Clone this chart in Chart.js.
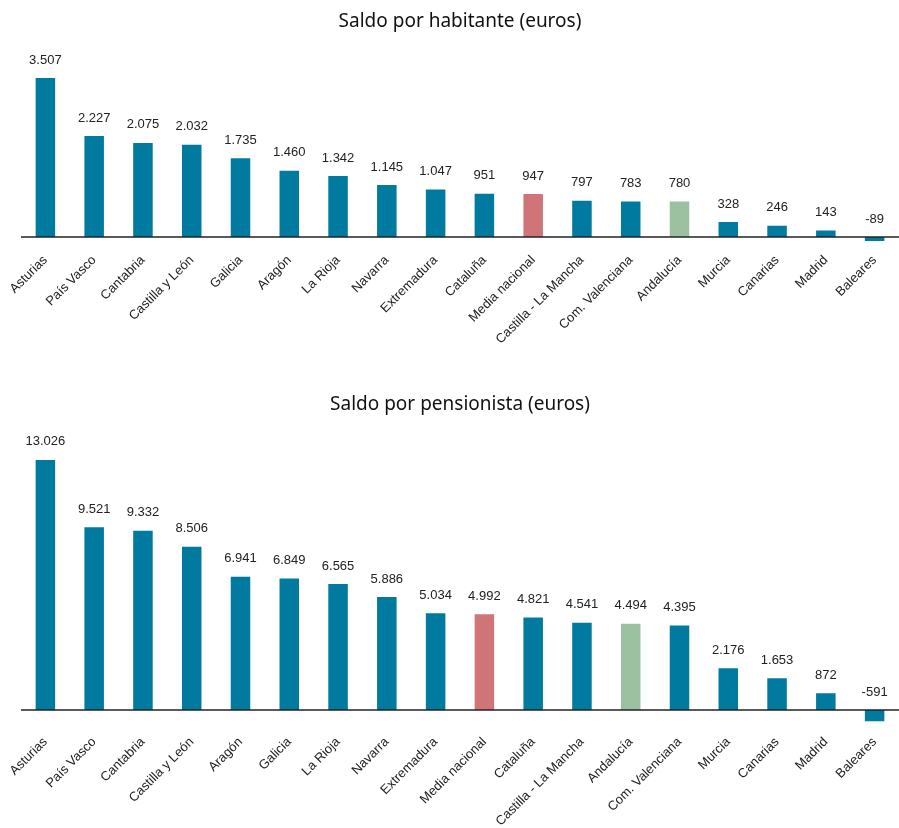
<!DOCTYPE html>
<html lang="es">
<head>
  <meta charset="UTF-8">
  <title>Saldo por habitante y por pensionista</title>
  <script src="https://cdn.jsdelivr.net/npm/chart.js"></script>
  <style>
    body { margin: 0; background: #fff; }
    #wrap { position: relative; width: 899px; height: 828px; }
    .box { position: absolute; left: 0; width: 899px; }
    #box1 { top: 0; height: 370px; }
    #box2 { top: 380px; height: 448px; }
  </style>
</head>
<body>
  <div id="wrap">
    <div class="box" id="box1"><canvas id="grafico1"></canvas></div>
    <div class="box" id="box2"><canvas id="grafico2"></canvas></div>
  </div>

  <script>
    // Datos: saldo por habitante
    const regionesHab = ['Asturias', 'País Vasco', 'Cantabria', 'Castilla y León', 'Galicia', 'Aragón',
      'La Rioja', 'Navarra', 'Extremadura', 'Cataluña', 'Media nacional', 'Castilla - La Mancha',
      'Com. Valenciana', 'Andalucía', 'Murcia', 'Canarias', 'Madrid', 'Baleares'];
    const saldoHab = [3507, 2227, 2075, 2032, 1735, 1460, 1342, 1145, 1047, 951, 947, 797, 783, 780, 328, 246, 143, -89];

    // Datos: saldo por pensionista
    const regionesPen = ['Asturias', 'País Vasco', 'Cantabria', 'Castilla y León', 'Aragón', 'Galicia',
      'La Rioja', 'Navarra', 'Extremadura', 'Media nacional', 'Cataluña', 'Castilla - La Mancha',
      'Andalucía', 'Com. Valenciana', 'Murcia', 'Canarias', 'Madrid', 'Baleares'];
    const saldoPen = [13026, 9521, 9332, 8506, 6941, 6849, 6565, 5886, 5034, 4992, 4821, 4541, 4494, 4395, 2176, 1653, 872, -591];

    const AZUL = '#007a9e';
    const ROJO = '#d07577';
    const VERDE = '#9cc1a0';

    function colores(labels) {
      return labels.map(l => l === 'Media nacional' ? ROJO : (l === 'Andalucía' ? VERDE : AZUL));
    }

    function formato(v) {
      return v.toLocaleString('de-DE');
    }

    // etiquetas de valor + linea del cero
    const extras = {
      id: 'extras',
      afterDatasetsDraw(chart) {
        const ctx = chart.ctx;
        const y = chart.scales.y;
        const area = chart.chartArea;
        const y0 = y.getPixelForValue(0);
        ctx.save();
        ctx.strokeStyle = '#222';
        ctx.lineWidth = 1.5;
        ctx.beginPath();
        ctx.moveTo(area.left, y0);
        ctx.lineTo(area.right, y0);
        ctx.stroke();

        ctx.fillStyle = '#222';
        ctx.font = '13px "Liberation Sans", Arial, sans-serif';
        ctx.textAlign = 'center';
        ctx.textBaseline = 'middle';
        const meta = chart.getDatasetMeta(0);
        chart.data.datasets[0].data.forEach((v, i) => {
          const bar = meta.data[i];
          const top = Math.min(y.getPixelForValue(v), y0);
          ctx.fillText(formato(v), bar.x, top - 18);
        });
        ctx.restore();
      }
    };

    function crear(id, labels, datos, titulo, opts) {
      const ctx = document.getElementById(id).getContext('2d');
      return new Chart(ctx, {
        type: 'bar',
        data: {
          labels: labels,
          datasets: [{
            data: datos,
            backgroundColor: colores(labels),
            barPercentage: 0.4,
            categoryPercentage: 1.0
          }]
        },
        options: {
          responsive: true,
          maintainAspectRatio: false,
          animation: false,
          layout: { padding: { left: 21, right: 0, top: 0, bottom: 0 } },
          plugins: {
            legend: { display: false },
            tooltip: { enabled: false },
            title: {
              display: true,
              text: titulo,
              color: '#111',
              font: { family: '"Noto Sans", sans-serif', size: 19, weight: 'normal' },
              padding: opts.titlePad
            }
          },
          scales: {
            x: {
              grid: { display: false, drawTicks: false },
              border: { display: false },
              ticks: {
                color: '#222',
                font: { family: '"Liberation Sans", Arial, sans-serif', size: 13 },
                maxRotation: 45,
                minRotation: 45,
                autoSkip: false,
                padding: 11
              },
              afterFit: s => { s.height = opts.xHeight; }
            },
            y: {
              display: false,
              min: opts.min,
              max: opts.max
            }
          }
        },
        plugins: [extras]
      });
    }

    crear('grafico1', regionesHab, saldoHab, 'Saldo por habitante (euros)',
      { min: -100, max: 4000, xHeight: 128.5, titlePad: { top: 10.6, bottom: 22.2 } });
    crear('grafico2', regionesPen, saldoPen, 'Saldo por pensionista (euros)',
      { min: -700, max: 15000, xHeight: 104.6, titlePad: { top: 13.6, bottom: 5.6 } });
  </script>
</body>
</html>
